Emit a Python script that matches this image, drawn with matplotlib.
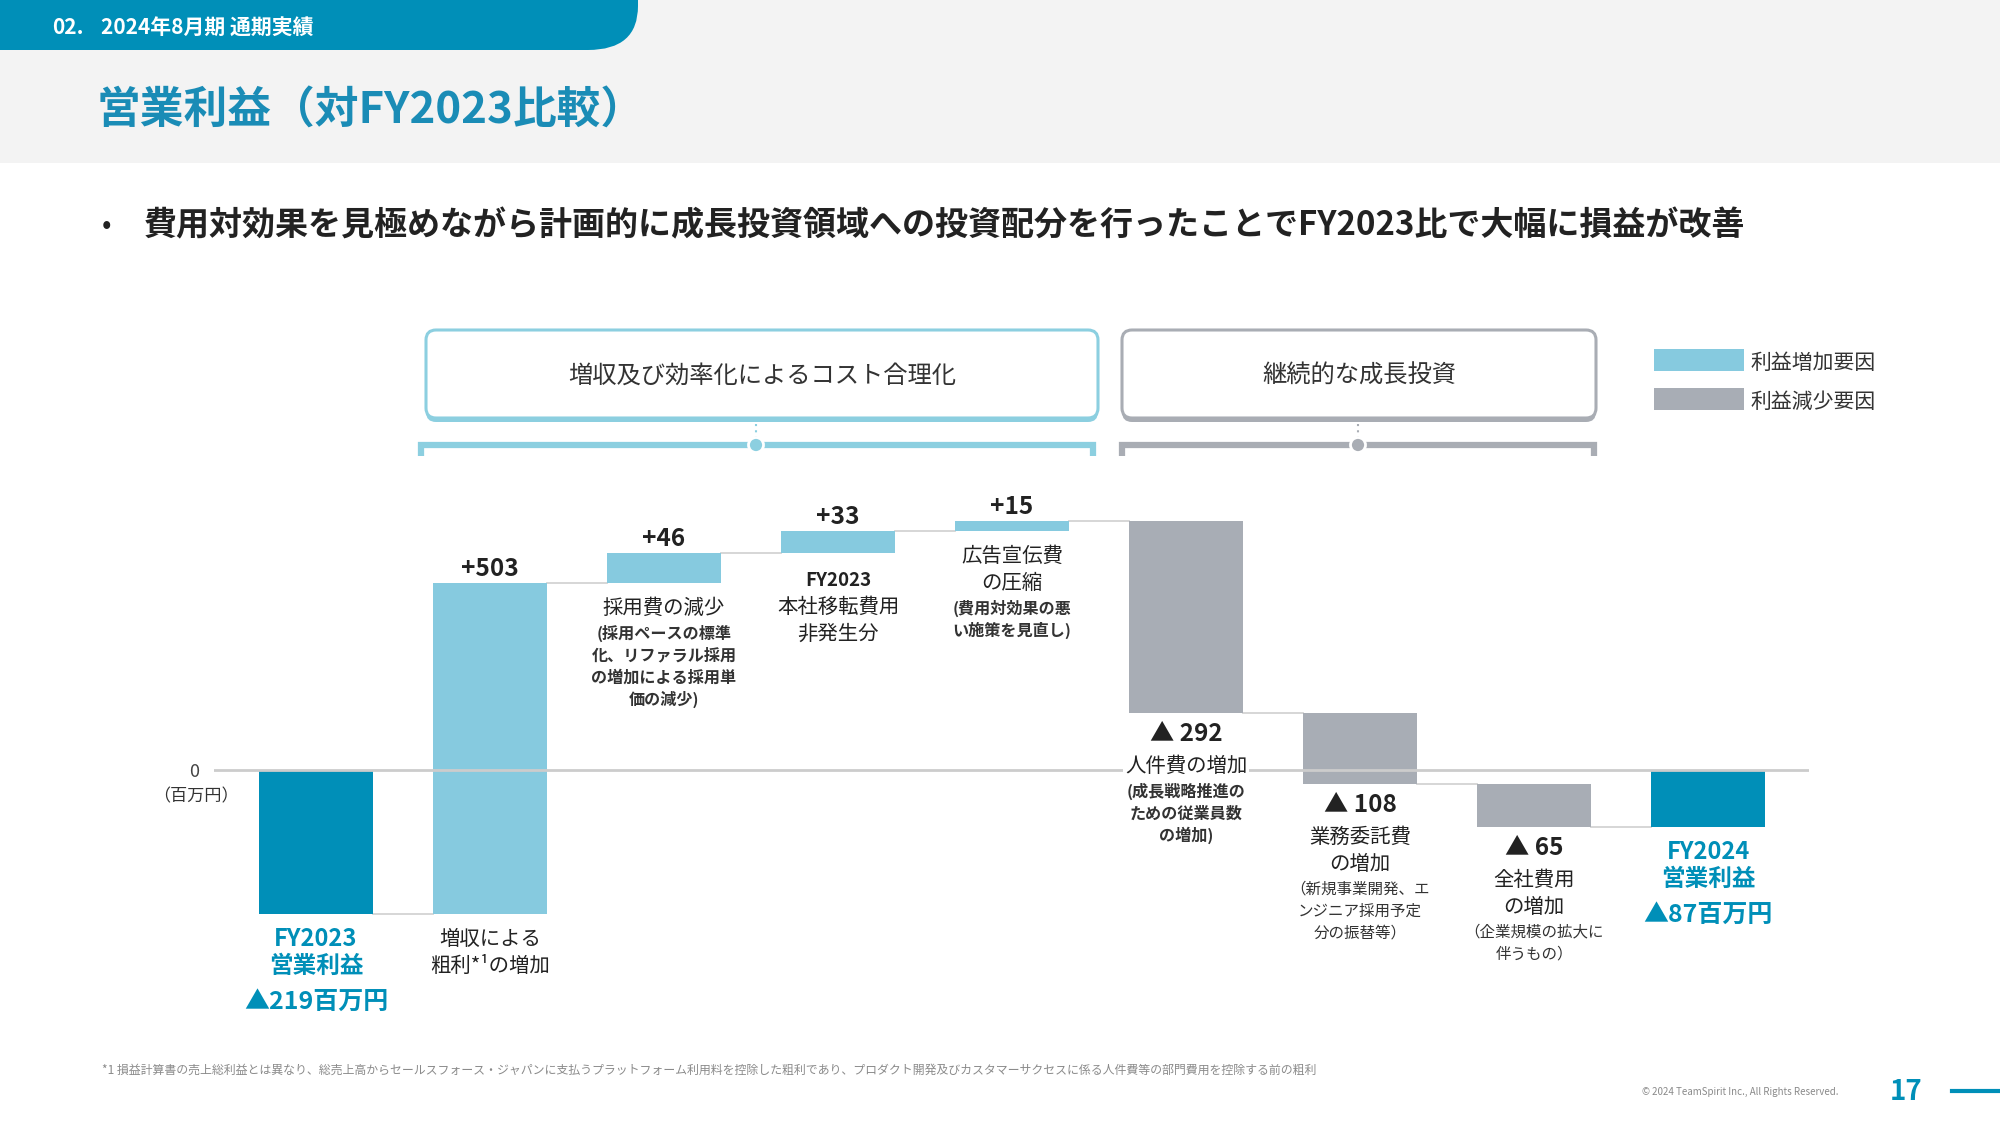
import matplotlib
matplotlib.use('Agg')
import matplotlib.pyplot as plt
from matplotlib.patches import Rectangle, FancyBboxPatch, Circle, PathPatch
from matplotlib.path import Path

plt.rcParams['font.family'] = ['Noto Sans CJK JP', 'DejaVu Sans']

# ---------------- data ----------------
categories = ['FY2023営業利益', '増収による粗利の増加', '採用費の減少', 'FY2023本社移転費用非発生分',
              '広告宣伝費の圧縮', '人件費の増加', '業務委託費の増加', '全社費用の増加', 'FY2024営業利益']
values = [-219, 503, 46, 33, 15, -292, -108, -65, -87]
kinds = ['total', 'inc', 'inc', 'inc', 'inc', 'dec', 'dec', 'dec', 'total']
value_labels = ['', '+503', '+46', '+33', '+15', '▲ 292', '▲ 108', '▲ 65', '']
label_lines = [
    [('FY2023', 'tot'), ('営業利益', 'tot'), ('▲219百万円', 'big')],
    [('増収による', 'main'), ('粗利*¹の増加', 'main')],
    [('採用費の減少', 'main'), ('(採用ペースの標準', 'sub'), ('化、リファラル採用', 'sub'),
     ('の増加による採用単', 'sub'), ('価の減少)', 'sub')],
    [('FY2023', 'mainb'), ('本社移転費用', 'main'), ('非発生分', 'main')],
    [('広告宣伝費', 'main'), ('の圧縮', 'main'), ('(費用対効果の悪', 'sub'), ('い施策を見直し)', 'sub')],
    [('人件費の増加', 'main'), ('(成長戦略推進の', 'sub'), ('ための従業員数', 'sub'), ('の増加)', 'sub')],
    [('業務委託費', 'main'), ('の増加', 'main'), ('（新規事業開発、エ', 'subr'),
     ('ンジニア採用予定', 'subr'), ('分の振替等）', 'subr')],
    [('全社費用', 'main'), ('の増加', 'main'), ('（企業規模の拡大に', 'subr'), ('伴うもの）', 'subr')],
    [('FY2024', 'tot'), ('営業利益', 'tot'), ('▲87百万円', 'big')],
]
group_titles = ['増収及び効率化によるコスト合理化', '継続的な成長投資']
legend_labels = ['利益増加要因', '利益減少要因']
header_no = '02.'
header_text = '2024年8月期 通期実績'
title_text = '営業利益（対FY2023比較）'
bullet_text = '費用対効果を見極めながら計画的に成長投資領域への投資配分を行ったことでFY2023比で大幅に損益が改善'
footnote_text = ('*1 損益計算書の売上総利益とは異なり、総売上高からセールスフォース・ジャパンに支払うプラットフォーム利用料を控除した粗利であり、'
                 'プロダクト開発及びカスタマーサクセスに係る人件費等の部門費用を控除する前の粗利')
copyright_text = '© 2024 TeamSpirit Inc., All Rights Reserved.'
page_no = '17'

# ---------------- colours ----------------
TEAL = '#008fb8'
TITLE_C = '#1a8cb6'
INC_C = '#86cadf'
DEC_C = '#a8adb5'
TXT = '#222222'
colors = {'total': TEAL, 'inc': INC_C, 'dec': DEC_C}

fig = plt.figure(figsize=(20, 11.25), dpi=100)
fig.patch.set_facecolor('white')

# overlay axes in pixel coordinates for slide decorations
bg = fig.add_axes([0, 0, 1, 1], zorder=0)
bg.set_xlim(0, 2000)
bg.set_ylim(1125, 0)
bg.axis('off')

bg.add_patch(Rectangle((0, 0), 2000, 163, facecolor='#f3f3f3', edgecolor='none'))
verts = [(0, 0), (638, 0), (638, 6), (638, 50), (588, 50), (0, 50), (0, 0)]
codes = [Path.MOVETO, Path.LINETO, Path.LINETO, Path.CURVE3, Path.CURVE3, Path.LINETO, Path.CLOSEPOLY]
bg.add_patch(PathPatch(Path(verts, codes), facecolor=TEAL, edgecolor='none'))
bg.text(52, 27, header_no, fontsize=15, weight='bold', color='white', va='center', ha='left')
bg.text(101, 27, header_text, fontsize=15, weight='bold', color='white', va='center', ha='left')
bg.text(97, 111, title_text, fontsize=31.5, weight='bold', color=TITLE_C, va='center', ha='left')
bg.text(102, 226, '•', fontsize=20, color=TXT, va='center', ha='left')
bg.text(144, 226, bullet_text, fontsize=23.8, weight='bold', color=TXT, va='center', ha='left')

# group boxes and brackets
groups = [
    dict(x0=426, x1=1098, bx0=421, bx1=1093, cx=756, col='#8ccfe0', title=group_titles[0]),
    dict(x0=1122, x1=1596, bx0=1122, bx1=1594, cx=1358, col='#a9adb4', title=group_titles[1]),
]
for g in groups:
    w = g['x1'] - g['x0']
    bg.add_patch(FancyBboxPatch((g['x0'], 334), w, 88, boxstyle='round,pad=0,rounding_size=10',
                                facecolor=g['col'], edgecolor='none', zorder=1))
    bg.add_patch(FancyBboxPatch((g['x0'], 330), w, 88, boxstyle='round,pad=0,rounding_size=10',
                                facecolor='white', edgecolor=g['col'], linewidth=2.2, zorder=2))
    bg.text((g['x0'] + g['x1']) / 2, 376, g['title'], fontsize=17.5, color='#333333',
            ha='center', va='center', zorder=3)
    bg.plot([g['cx'], g['cx']], [424, 439], ls=(0, (1, 2)), color=g['col'], lw=1.5, zorder=2)
    bg.plot([g['bx0'], g['bx0'], g['bx1'], g['bx1']], [456, 445, 445, 456], color=g['col'], lw=4.5,
            solid_joinstyle='miter', solid_capstyle='butt', zorder=2)
    bg.add_patch(Circle((g['cx'], 445), 7.5, facecolor=g['col'], edgecolor='white', linewidth=2, zorder=3))

# legend
for i, (lab, col) in enumerate(zip(legend_labels, [INC_C, DEC_C])):
    y = 349 + i * 39
    bg.add_patch(Rectangle((1654, y), 90, 22, facecolor=col, edgecolor='none'))
    bg.text(1750, y + 14, lab, fontsize=15, color='#333333', va='center', ha='left')

# footer
bg.text(102, 1070, footnote_text, fontsize=8.6, color='#8a8a8a', va='center', ha='left')
bg.text(1839, 1092, copyright_text, fontsize=7, color='#8a8a8a', va='center', ha='right')
bg.text(1906, 1092, page_no, fontsize=20, weight='bold', color=TEAL, va='center', ha='center')
bg.plot([1952, 2000], [1091, 1091], color=TEAL, lw=3)

# ---------------- waterfall chart ----------------
ax = fig.add_axes([214 / 2000, 1 - 1000 / 1125, 1595 / 2000, 520 / 1125], zorder=2)
ax.patch.set_alpha(0)
for s in ax.spines.values():
    s.set_visible(False)
ax.set_xlim(-0.586, 8.58)
ax.set_ylim(-349.8, 441.1)
ax.set_xticks([])
ax.set_yticks([0], ['0'])
ax.tick_params(axis='y', length=0, pad=11, labelsize=13, labelcolor='#444444')

bottoms, heights, ends = [], [], []
running = 0
for v, k in zip(values, kinds):
    if k == 'total':
        bottoms.append(0)
        running = v
    else:
        bottoms.append(running)
        running += v
    heights.append(v)
    ends.append(running)

xs = list(range(len(values)))
W = 0.66
ax.bar(xs, heights, bottom=bottoms, width=W, color=[colors[k] for k in kinds], zorder=2)
ax.axhline(0, color='#cccccc', lw=2, zorder=3)

# connectors
for i in range(len(values) - 1):
    ax.plot([i + W / 2, i + 1 - W / 2], [ends[i], ends[i]], color='#d3d3d3', lw=1.3, zorder=1)

ax.annotate('（百万円）', xy=(0, 0), xycoords=('axes fraction', 'data'), xytext=(-18 / 1.389, -26 / 1.389),
            textcoords='offset points', ha='center', va='center', fontsize=12.3, color='#333333')

styles = {
    'val': dict(fontsize=17.5, weight='bold', color=TXT),
    'main': dict(fontsize=14.7, color=TXT),
    'mainb': dict(fontsize=13.5, weight='bold', color=TXT),
    'sub': dict(fontsize=11.6, weight='bold', color='#333333'),
    'subr': dict(fontsize=11.2, color='#333333'),
    'tot': dict(fontsize=17, weight='bold', color=TEAL),
    'big': dict(fontsize=18, weight='bold', color=TEAL),
}
first_gap = {'val': 21, 'main': 25, 'mainb': 27, 'tot': 25}


def gap(prev, cur):
    subs = ('sub', 'subr')
    if prev in subs and cur in subs:
        return 22
    if cur in subs:
        return 25
    if prev == 'val':
        return 32
    if cur == 'big':
        return 36
    return 27


PX = 100 / 72.0
for i, (v, k) in enumerate(zip(values, kinds)):
    top = max(bottoms[i], bottoms[i] + heights[i])
    low = min(bottoms[i], bottoms[i] + heights[i])
    lines = list(label_lines[i])
    if k == 'inc':
        ax.annotate(value_labels[i], xy=(i, top), xytext=(0, 14 / PX), textcoords='offset points',
                    ha='center', va='center', **styles['val'])
    elif k == 'dec':
        lines = [(value_labels[i], 'val')] + lines
    off = 0
    prev = None
    for txt, st in lines:
        off += first_gap[st] if prev is None else gap(prev, st)
        kw = {}
        if txt == '人件費の増加':
            kw['bbox'] = dict(facecolor='white', edgecolor='none', pad=1)
        ax.annotate(txt, xy=(i, low), xytext=(0, -off / PX), textcoords='offset points',
                    ha='center', va='center', zorder=4, **styles[st], **kw)
        prev = st

fig.savefig('out.png', dpi=100, facecolor='white')
